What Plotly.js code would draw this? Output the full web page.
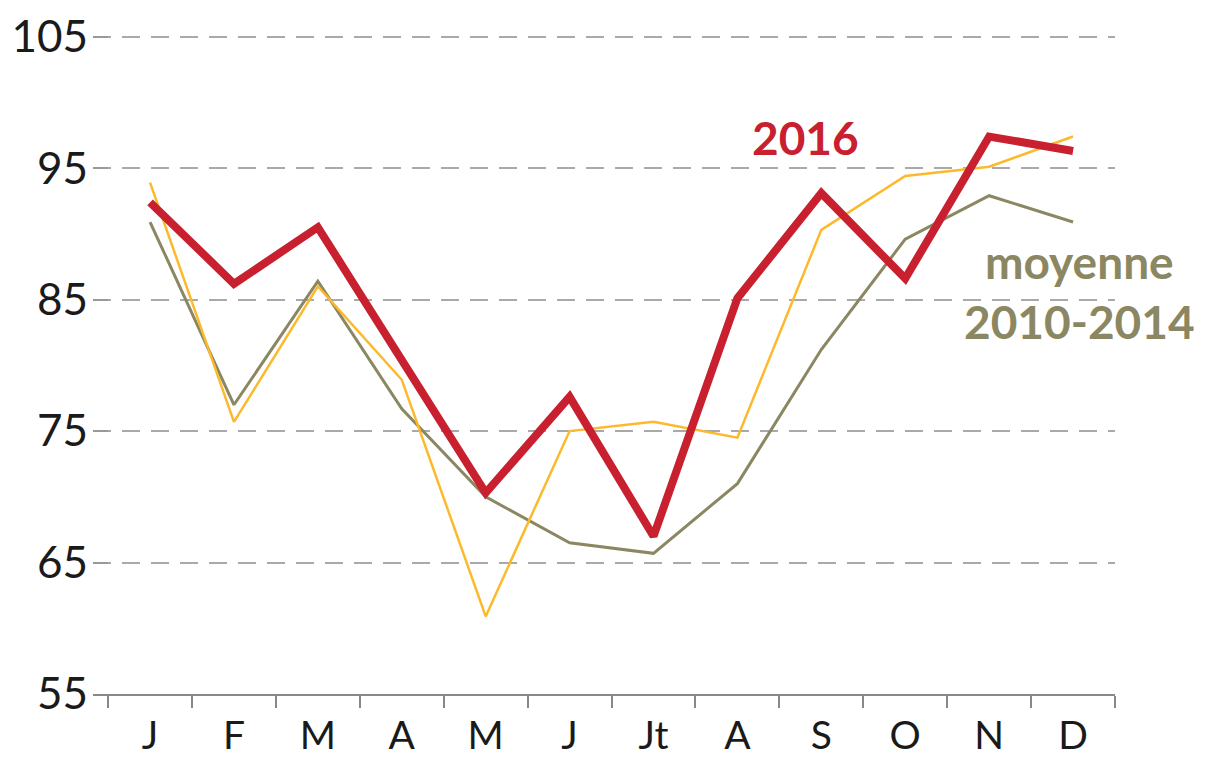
<!DOCTYPE html>
<html>
<head>
<meta charset="utf-8">
<script src="https://cdn.plot.ly/plotly-3.0.1.min.js"></script>
<style>
  html, body { margin: 0; padding: 0; background: #fff; }
  #chart { width: 1216px; height: 757px; }
</style>
</head>
<body>
<div id="chart"></div>
<script>
// Month labels (French)
const months = ['J', 'F', 'M', 'A', 'M', 'J', 'Jt', 'A', 'S', 'O', 'N', 'D'];
// Series values
const avg2010_2014 = [90.9, 77.0, 86.4, 76.7, 70.0, 66.5, 65.7, 71.0, 81.2, 89.6, 92.9, 90.9];
const y2015 = [93.9, 75.7, 86.0, 78.9, 60.9, 75.0, 75.7, 74.5, 90.3, 94.4, 95.1, 97.4];
const y2016 = [92.4, 86.2, 90.5, 80.5, 70.3, 77.6, 67.0, 85.1, 93.1, 86.6, 97.4, 96.3];
// Y tick values
const yTicks = [55, 65, 75, 85, 95, 105];

const xIdx = months.map((m, i) => i);
const boundaries = months.map((m, i) => i - 0.5).concat([months.length - 0.5]);

const RED = '#C8202F';
const ORANGE = '#FDB92C';
const OLIVE = '#8B8762';
const FONT = 'Lato, Open Sans, sans-serif';

const traces = [
  { x: xIdx, y: avg2010_2014, type: 'scatter', mode: 'lines', name: 'moyenne 2010-2014',
    line: { color: OLIVE, width: 3 }, hoverinfo: 'skip' },
  { x: xIdx, y: y2015, type: 'scatter', mode: 'lines', name: '2015',
    line: { color: ORANGE, width: 2.5 }, hoverinfo: 'skip' },
  { x: xIdx, y: y2016, type: 'scatter', mode: 'lines', name: '2016',
    line: { color: RED, width: 8 }, hoverinfo: 'skip' }
];

const layout = {
  width: 1216, height: 757,
  margin: { l: 93, r: 101, t: 34, b: 63 },
  paper_bgcolor: '#fff', plot_bgcolor: '#fff',
  showlegend: false,
  font: { family: FONT, color: '#1a1a1a' },
  xaxis: {
    type: 'linear',
    range: [-0.68, 11.5],
    tickvals: xIdx, ticktext: months,
    ticks: '', showgrid: false, zeroline: false,
    showline: true, linecolor: '#888', linewidth: 2,
    tickfont: { family: FONT, size: 39, color: '#1a1a1a' },
    ticklabelstandoff: 6,
    minor: { tickvals: boundaries, ticks: 'outside', ticklen: 12, tickwidth: 2, tickcolor: '#888', showgrid: false }
  },
  yaxis: {
    range: [55, 105.2],
    tickvals: yTicks, ticktext: yTicks.map(String),
    showgrid: true, gridcolor: '#A9A9A9', gridwidth: 2, griddash: '18px,11px',
    zeroline: false, showline: false,
    ticks: 'inside', ticklen: 15, tickwidth: 2, tickcolor: '#999',
    tickfont: { family: FONT, size: 44, color: '#1a1a1a' },
    ticklabelstandoff: 4
  },
  annotations: [
    { x: 7.81, y: 97.3, xref: 'x', yref: 'y', text: '<b>2016</b>', showarrow: false,
      font: { family: FONT, size: 46, color: RED } },
    { x: 11.8, y: 102.1, xref: 'x', yref: 'y', text: '<b>2015</b>', showarrow: false,
      font: { family: FONT, size: 46, color: ORANGE } },
    { x: 11.08, y: 85.6, xref: 'x', yref: 'y', text: '<b>moyenne</b><br><b>2010-2014</b>', showarrow: false,
      font: { family: FONT, size: 46, color: OLIVE } }
  ]
};

Plotly.newPlot('chart', traces, layout, { staticPlot: true, displayModeBar: false });
</script>
</body>
</html>
